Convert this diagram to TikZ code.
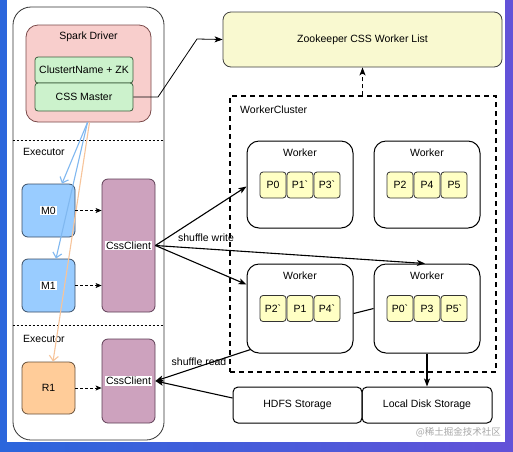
\documentclass[tikz,border=0pt]{standalone}
\usepackage{fontspec}
\setmainfont{Liberation Sans}[Ligatures=TeXOff]
\newfontfamily\cjkfont{Noto Sans CJK SC}
\usetikzlibrary{arrows.meta,calc}
\definecolor{pinkf}{HTML}{F8CECC}
\definecolor{pinkd}{HTML}{7A4A4A}
\definecolor{greenf}{HTML}{CCF2CC}
\definecolor{greend}{HTML}{3E5E3E}
\definecolor{bluef}{HTML}{99CCFF}
\definecolor{blued}{HTML}{3A4E66}
\definecolor{orangef}{HTML}{FFCC99}
\definecolor{oranged}{HTML}{66503A}
\definecolor{purplef}{HTML}{CDA2BE}
\definecolor{purpled}{HTML}{5E3E55}
\definecolor{yellowf}{HTML}{F9F9D0}
\definecolor{partf}{HTML}{FFFFC4}
\definecolor{bluel}{HTML}{80B8F0}
\definecolor{orangel}{HTML}{F7C49A}
\definecolor{bgl}{HTML}{2B66DC}
\definecolor{bgr}{HTML}{6352D8}
\definecolor{wmark}{HTML}{A8A8A8}
\tikzset{
  txt/.style={font=\fontsize{10.5}{12}\selectfont, inner sep=1pt},
  bx/.style={draw, line width=0.8pt, inner sep=0pt},
  part/.style={bx, draw=black!80, fill=partf, rounded corners=3pt, minimum width=26pt, minimum height=26pt, font=\fontsize{10.5}{12}\selectfont},
  worker/.style={bx, line width=1pt, draw=black, fill=white, rounded corners=12pt, minimum width=106pt, minimum height=87pt},
  task/.style={bx, rounded corners=6pt, minimum width=53pt, minimum height=53pt},
  client/.style={bx, draw=purpled, fill=purplef, rounded corners=6pt, minimum width=53pt},
  wlbl/.style={txt, fill=white, inner sep=1pt},
  arr/.style={line width=1.1pt, -{Stealth[length=8pt,width=6pt,inset=2pt]}},
  darr/.style={line width=0.8pt, dashed, dash pattern=on 3pt off 2pt, -{Stealth[length=6pt,width=5pt,inset=1.5pt]}},
  oarr/.style={line width=1.1pt, -{Straight Barb[length=5pt,width=9pt]}},
}
\begin{document}
\begin{tikzpicture}[x=1pt,y=-1pt]
\useasboundingbox (0,0) rectangle (513,451);
\fill[left color=bgl, right color=bgr] (0,0) rectangle (513,451);
\fill[white] (7,0) rectangle (505,442);

% left container
\node[bx, draw=black!80, rounded corners=18pt, minimum width=151pt, minimum height=433pt] (outer) at (88.5,223.5) {};
\node[bx, draw=pinkd, fill=pinkf, rounded corners=12pt, minimum width=125pt, minimum height=97pt] (driver) at (88.5,73.5) {};
\node[txt] (drvlbl) at (88.5,37) {Spark Driver};
\node[bx, draw=greend, fill=greenf, rounded corners=3pt, minimum width=98pt, minimum height=26pt, txt] (zkn) at (84,70) {ClustertName + ZK};
\node[bx, draw=greend, fill=greenf, rounded corners=3pt, minimum width=98pt, minimum height=28pt, txt] (master) at (84,97) {CSS Master};

\draw[dashed, dash pattern=on 2pt off 2pt, line width=0.7pt] (outer.west |- 0,140) coordinate (d1a) -- (outer.east |- 0,140) coordinate (d1b);
\node[txt, anchor=west] (exec1) at (22,152) {Executor};
\draw[dashed, dash pattern=on 2pt off 2pt, line width=0.7pt] (outer.west |- 0,325) coordinate (d2a) -- (outer.east |- 0,325) coordinate (d2b);
\node[txt, anchor=west] (exec2) at (22,339) {Executor};

\node[task, draw=blued, fill=bluef] (m0) at (48.5,210.5) {};
\node[task, draw=blued, fill=bluef] (m1) at (48.5,285.5) {};
\node[task, draw=oranged, fill=orangef, minimum height=52pt] (r1) at (48.5,388) {};
\node[client, minimum height=133pt] (cc1) at (128.5,245.5) {};
\node[client, minimum height=84pt] (cc2) at (128.5,381) {};

% driver to tasks
\draw[oarr, draw=bluel] ($(driver.south)+(-1,0)$) -- (m0.north -| 62,0);
\draw[oarr, draw=bluel] ($(driver.south)+(-1,0)$) -- (m1.north -| 56,0);
\draw[oarr, draw=orangel] ($(driver.south)+(1,0)$) -- (r1.north -| 53,0);

\node[wlbl] (m0l) at (m0) {M0};
\node[wlbl] (m1l) at (m1) {M1};
\node[txt] (r1l) at (r1) {R1};
\node[wlbl] (cc1l) at (cc1) {CssClient};
\node[wlbl] (cc2l) at (cc2) {CssClient};

\draw[darr] (m0.east) -- (m0.east -| cc1.west);
\draw[darr] (m1.east) -- (m1.east -| cc1.west);
\draw[darr] (r1.east) -- (r1.east -| cc2.west);

% right side
\node[bx, draw=black!75, fill=yellowf, rounded corners=8pt, minimum width=279pt, minimum height=55pt, txt] (zkl) at (362.5,39.5) {Zookeeper CSS Worker List};
\node[draw, line width=1.3pt, dash pattern=on 5pt off 4pt, minimum width=266pt, minimum height=276pt, inner sep=0pt] (wc) at (363,234) {};
\node[txt, anchor=west] (wclbl) at (239,110) {WorkerCluster};

\node[worker] (w1) at (300,184.5) {};
\node[worker] (w2) at (427,184.5) {};
\node[worker, minimum height=89pt] (w3) at (300,308.5) {};
\node[worker, minimum height=89pt] (w4) at (427,308.5) {};
\node[txt] (w1l) at (300,153) {Worker};
\node[txt] (w2l) at (427,153) {Worker};
\node[txt] (w3l) at (300,276) {Worker};
\node[txt] (w4l) at (427,276) {Worker};

\node[part] (a1) at (273,185) {P0};
\node[part] (a2) at (300,185) {P1`};
\node[part] (a3) at (327,185) {P3`};
\node[part] (b1) at (400,185) {P2};
\node[part] (b2) at (427,185) {P4};
\node[part] (b3) at (454,185) {P5};
\node[part] (c1) at (273,308.5) {P2`};
\node[part] (c2) at (300,308.5) {P1};
\node[part] (c3) at (327,308.5) {P4`};
\node[part] (e1) at (400,308.5) {P0`};
\node[part] (e2) at (427,308.5) {P3};
\node[part] (e3) at (454,308.5) {P5`};

\node[bx, line width=1pt, draw=black, rounded corners=5pt, minimum width=129pt, minimum height=36pt, txt] (hdfs) at (297.5,405) {HDFS Storage};
\node[bx, line width=1pt, draw=black, rounded corners=5pt, minimum width=130pt, minimum height=36pt, txt] (local) at (427,405) {Local Disk Storage};

% connectors
\coordinate (k1) at (158,97);
\coordinate (k2) at (197,39);
\draw[line width=0.8pt, -{Stealth[length=8pt,width=6pt,inset=2pt]}] (master.east) -- (k1) -- (k2) -- (zkl.west);
\draw[line width=1.3pt, dash pattern=on 4pt off 3pt, -{Stealth[length=8pt,width=6pt,inset=2pt]}] (wc.north -| zkl.south) -- (zkl.south);

\draw[arr] (cc1.east) -- ($(w1.west)+(0,2)$);
\draw[arr] (cc1.east) -- ($(w3.north west)+(0,21)$);
\draw[arr] (cc1.east) -- ($(w4.north)+(-2,0)$);
\node[txt] (swl) at (206,238) {shuffle write};

\draw[line width=1.1pt] ($(w3.east)+(0,5)$) -- (w4.west);

\draw[arr] ($(w3.south west)+(4,-4)$) -- (cc2.east);
\draw[arr] ($(hdfs.west)+(0,-7)$) -- (cc2.east);
\node[txt] (srl) at (199,362) {shuffle read};

\draw[arr] (w4.south) -- (local.north);

\node[font=\cjkfont\fontsize{9.5}{11}\selectfont, text=wmark, anchor=east, inner sep=0pt] (wm) at (501,432) {@稀土掘金技术社区};
\end{tikzpicture}
\end{document}
